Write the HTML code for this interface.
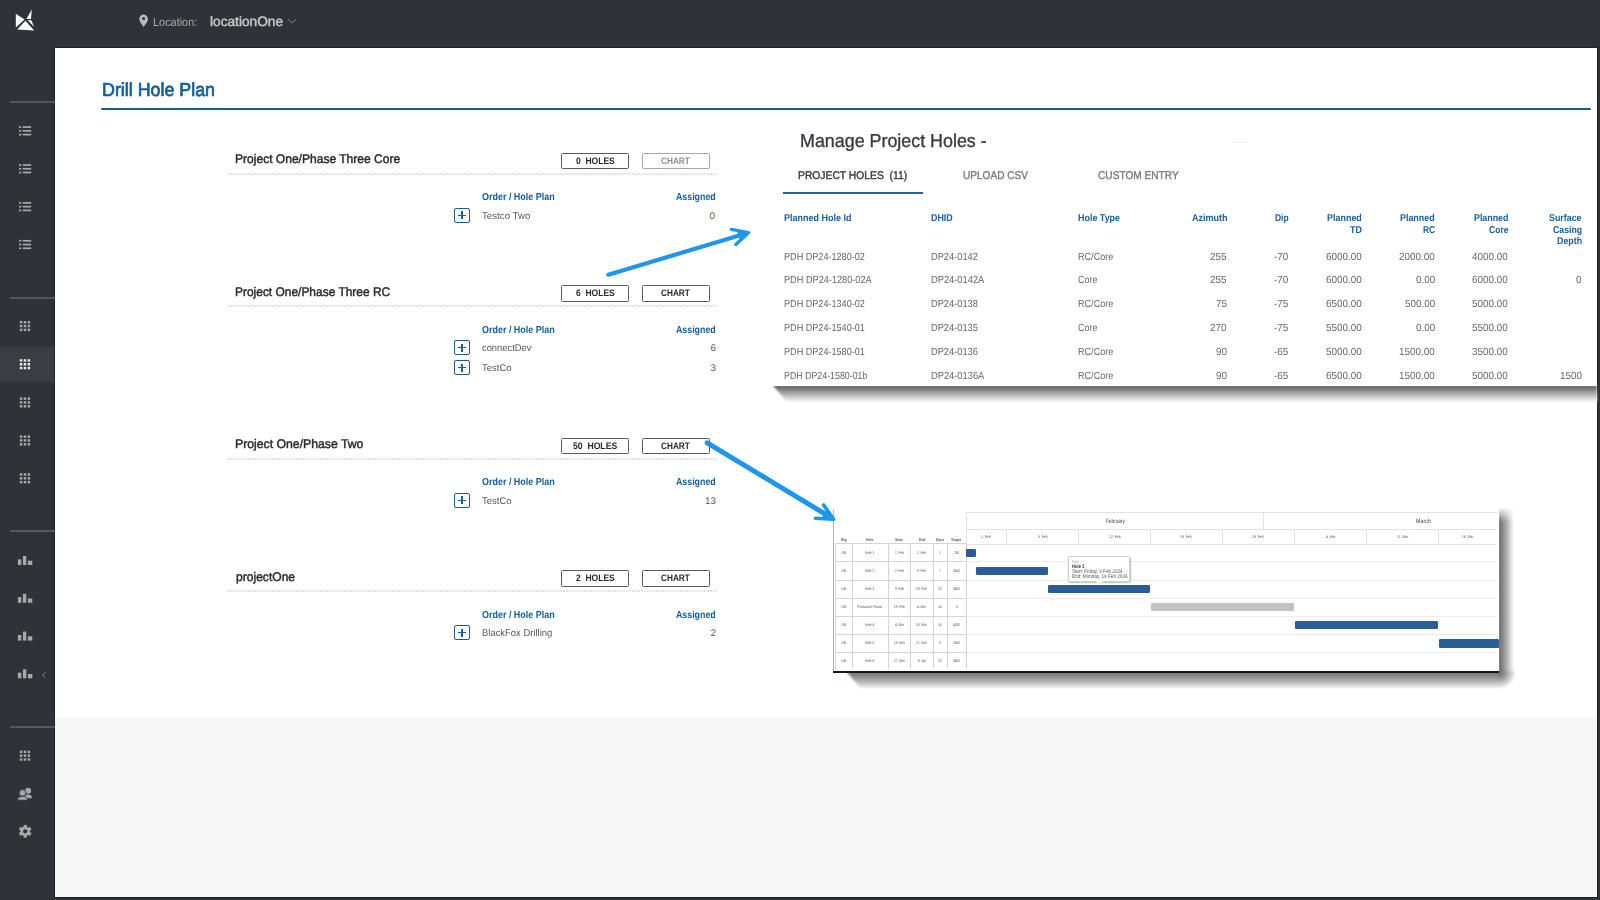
<!DOCTYPE html>
<html><head><meta charset="utf-8">
<style>
html,body{margin:0;padding:0;}
body{width:1600px;height:900px;overflow:hidden;position:relative;background:#2f3237;font-family:"Liberation Sans",sans-serif;}
.a{position:absolute;box-sizing:border-box;}
.t{position:absolute;white-space:pre;transform-origin:0 0;text-rendering:geometricPrecision;font-family:"Liberation Sans",sans-serif;}
svg{position:absolute;overflow:visible;}
</style></head><body>
<div class="a" style="left:54px;top:47px;width:1544px;height:851px;background:#1f2124"></div>
<div class="a" style="left:55px;top:48px;width:1542px;height:669px;background:#fff"></div>
<div class="a" style="left:55px;top:717px;width:1542px;height:180px;background:#f7f7f7"></div>
<div class="a" style="left:10px;top:101px;width:45px;height:2px;background:#55585c"></div>
<div class="a" style="left:10px;top:297px;width:45px;height:2px;background:#55585c"></div>
<div class="a" style="left:10px;top:530px;width:45px;height:2px;background:#55585c"></div>
<div class="a" style="left:10px;top:726px;width:45px;height:2px;background:#55585c"></div>
<div class="a" style="left:0;top:346.5px;width:54px;height:35.5px;background:#3a3d42"></div>
<svg class="a" style="left:0;top:0" width="60" height="900"><rect x="19" y="126.25" width="2.2" height="1.7" fill="#a7a8aa"/><rect x="22.7" y="126.25" width="8.5" height="1.7" fill="#a7a8aa"/><rect x="19" y="130.00" width="2.2" height="1.7" fill="#a7a8aa"/><rect x="22.7" y="130.00" width="8.5" height="1.7" fill="#a7a8aa"/><rect x="19" y="133.75" width="2.2" height="1.7" fill="#a7a8aa"/><rect x="22.7" y="133.75" width="8.5" height="1.7" fill="#a7a8aa"/><rect x="19" y="164.15" width="2.2" height="1.7" fill="#a7a8aa"/><rect x="22.7" y="164.15" width="8.5" height="1.7" fill="#a7a8aa"/><rect x="19" y="167.90" width="2.2" height="1.7" fill="#a7a8aa"/><rect x="22.7" y="167.90" width="8.5" height="1.7" fill="#a7a8aa"/><rect x="19" y="171.65" width="2.2" height="1.7" fill="#a7a8aa"/><rect x="22.7" y="171.65" width="8.5" height="1.7" fill="#a7a8aa"/><rect x="19" y="202.05" width="2.2" height="1.7" fill="#a7a8aa"/><rect x="22.7" y="202.05" width="8.5" height="1.7" fill="#a7a8aa"/><rect x="19" y="205.80" width="2.2" height="1.7" fill="#a7a8aa"/><rect x="22.7" y="205.80" width="8.5" height="1.7" fill="#a7a8aa"/><rect x="19" y="209.55" width="2.2" height="1.7" fill="#a7a8aa"/><rect x="22.7" y="209.55" width="8.5" height="1.7" fill="#a7a8aa"/><rect x="19" y="239.95" width="2.2" height="1.7" fill="#a7a8aa"/><rect x="22.7" y="239.95" width="8.5" height="1.7" fill="#a7a8aa"/><rect x="19" y="243.70" width="2.2" height="1.7" fill="#a7a8aa"/><rect x="22.7" y="243.70" width="8.5" height="1.7" fill="#a7a8aa"/><rect x="19" y="247.45" width="2.2" height="1.7" fill="#a7a8aa"/><rect x="22.7" y="247.45" width="8.5" height="1.7" fill="#a7a8aa"/><rect x="19.80" y="321.00" width="2.5" height="2.5" fill="#a7a8aa"/><rect x="19.80" y="324.80" width="2.5" height="2.5" fill="#a7a8aa"/><rect x="19.80" y="328.60" width="2.5" height="2.5" fill="#a7a8aa"/><rect x="23.70" y="321.00" width="2.5" height="2.5" fill="#a7a8aa"/><rect x="23.70" y="324.80" width="2.5" height="2.5" fill="#a7a8aa"/><rect x="23.70" y="328.60" width="2.5" height="2.5" fill="#a7a8aa"/><rect x="27.60" y="321.00" width="2.5" height="2.5" fill="#a7a8aa"/><rect x="27.60" y="324.80" width="2.5" height="2.5" fill="#a7a8aa"/><rect x="27.60" y="328.60" width="2.5" height="2.5" fill="#a7a8aa"/><rect x="19.80" y="397.40" width="2.5" height="2.5" fill="#a7a8aa"/><rect x="19.80" y="401.20" width="2.5" height="2.5" fill="#a7a8aa"/><rect x="19.80" y="405.00" width="2.5" height="2.5" fill="#a7a8aa"/><rect x="23.70" y="397.40" width="2.5" height="2.5" fill="#a7a8aa"/><rect x="23.70" y="401.20" width="2.5" height="2.5" fill="#a7a8aa"/><rect x="23.70" y="405.00" width="2.5" height="2.5" fill="#a7a8aa"/><rect x="27.60" y="397.40" width="2.5" height="2.5" fill="#a7a8aa"/><rect x="27.60" y="401.20" width="2.5" height="2.5" fill="#a7a8aa"/><rect x="27.60" y="405.00" width="2.5" height="2.5" fill="#a7a8aa"/><rect x="19.80" y="435.40" width="2.5" height="2.5" fill="#a7a8aa"/><rect x="19.80" y="439.20" width="2.5" height="2.5" fill="#a7a8aa"/><rect x="19.80" y="443.00" width="2.5" height="2.5" fill="#a7a8aa"/><rect x="23.70" y="435.40" width="2.5" height="2.5" fill="#a7a8aa"/><rect x="23.70" y="439.20" width="2.5" height="2.5" fill="#a7a8aa"/><rect x="23.70" y="443.00" width="2.5" height="2.5" fill="#a7a8aa"/><rect x="27.60" y="435.40" width="2.5" height="2.5" fill="#a7a8aa"/><rect x="27.60" y="439.20" width="2.5" height="2.5" fill="#a7a8aa"/><rect x="27.60" y="443.00" width="2.5" height="2.5" fill="#a7a8aa"/><rect x="19.80" y="473.30" width="2.5" height="2.5" fill="#a7a8aa"/><rect x="19.80" y="477.10" width="2.5" height="2.5" fill="#a7a8aa"/><rect x="19.80" y="480.90" width="2.5" height="2.5" fill="#a7a8aa"/><rect x="23.70" y="473.30" width="2.5" height="2.5" fill="#a7a8aa"/><rect x="23.70" y="477.10" width="2.5" height="2.5" fill="#a7a8aa"/><rect x="23.70" y="480.90" width="2.5" height="2.5" fill="#a7a8aa"/><rect x="27.60" y="473.30" width="2.5" height="2.5" fill="#a7a8aa"/><rect x="27.60" y="477.10" width="2.5" height="2.5" fill="#a7a8aa"/><rect x="27.60" y="480.90" width="2.5" height="2.5" fill="#a7a8aa"/><rect x="19.80" y="750.60" width="2.5" height="2.5" fill="#a7a8aa"/><rect x="19.80" y="754.40" width="2.5" height="2.5" fill="#a7a8aa"/><rect x="19.80" y="758.20" width="2.5" height="2.5" fill="#a7a8aa"/><rect x="23.70" y="750.60" width="2.5" height="2.5" fill="#a7a8aa"/><rect x="23.70" y="754.40" width="2.5" height="2.5" fill="#a7a8aa"/><rect x="23.70" y="758.20" width="2.5" height="2.5" fill="#a7a8aa"/><rect x="27.60" y="750.60" width="2.5" height="2.5" fill="#a7a8aa"/><rect x="27.60" y="754.40" width="2.5" height="2.5" fill="#a7a8aa"/><rect x="27.60" y="758.20" width="2.5" height="2.5" fill="#a7a8aa"/><rect x="19.80" y="359.20" width="2.5" height="2.5" fill="#ececec"/><rect x="19.80" y="363.00" width="2.5" height="2.5" fill="#ececec"/><rect x="19.80" y="366.80" width="2.5" height="2.5" fill="#ececec"/><rect x="23.70" y="359.20" width="2.5" height="2.5" fill="#ececec"/><rect x="23.70" y="363.00" width="2.5" height="2.5" fill="#ececec"/><rect x="23.70" y="366.80" width="2.5" height="2.5" fill="#ececec"/><rect x="27.60" y="359.20" width="2.5" height="2.5" fill="#ececec"/><rect x="27.60" y="363.00" width="2.5" height="2.5" fill="#ececec"/><rect x="27.60" y="366.80" width="2.5" height="2.5" fill="#ececec"/><rect x="17.9" y="559.40" width="3.4" height="5.6" fill="#a7a8aa"/><rect x="22.9" y="556.00" width="3.4" height="9" fill="#a7a8aa"/><rect x="27.9" y="560.70" width="4.4" height="4.3" fill="#a7a8aa"/><rect x="17.9" y="597.20" width="3.4" height="5.6" fill="#a7a8aa"/><rect x="22.9" y="593.80" width="3.4" height="9" fill="#a7a8aa"/><rect x="27.9" y="598.50" width="4.4" height="4.3" fill="#a7a8aa"/><rect x="17.9" y="635.00" width="3.4" height="5.6" fill="#a7a8aa"/><rect x="22.9" y="631.60" width="3.4" height="9" fill="#a7a8aa"/><rect x="27.9" y="636.30" width="4.4" height="4.3" fill="#a7a8aa"/><rect x="17.9" y="672.70" width="3.4" height="5.6" fill="#a7a8aa"/><rect x="22.9" y="669.30" width="3.4" height="9" fill="#a7a8aa"/><rect x="27.9" y="674.00" width="4.4" height="4.3" fill="#a7a8aa"/><path d="M45.5 672.3 L42.3 675.3 L45.5 678.3" stroke="#8a8b8d" stroke-width="0.9" fill="none"/><circle cx="28.1" cy="790.8" r="3" fill="#a7a8aa"/><path d="M24.2 798.3 Q24.2 794.6 28.1 794.6 Q32 794.6 32 798.3 Z" fill="#a7a8aa"/><circle cx="22.6" cy="792.9" r="3.3" fill="#a7a8aa" stroke="#2f3237" stroke-width="0.8"/><path d="M17.6 800.2 Q17.6 796.3 22.6 796.3 Q27.6 796.3 27.6 800.2 Z" fill="#a7a8aa" stroke="#2f3237" stroke-width="0.8"/><g transform="translate(25.2,831.3)"><rect x="-1.6" y="-6.4" width="3.2" height="3" fill="#a7a8aa" transform="rotate(0)"/><rect x="-1.6" y="-6.4" width="3.2" height="3" fill="#a7a8aa" transform="rotate(60)"/><rect x="-1.6" y="-6.4" width="3.2" height="3" fill="#a7a8aa" transform="rotate(120)"/><rect x="-1.6" y="-6.4" width="3.2" height="3" fill="#a7a8aa" transform="rotate(180)"/><rect x="-1.6" y="-6.4" width="3.2" height="3" fill="#a7a8aa" transform="rotate(240)"/><rect x="-1.6" y="-6.4" width="3.2" height="3" fill="#a7a8aa" transform="rotate(300)"/><circle r="4.8" fill="#a7a8aa"/><circle r="2.1" fill="#2f3237"/></g></svg>
<svg class="a" style="left:0;top:0" width="50" height="40"><polygon points="15.8,13.8 15.8,27.6 24.6,19.6" fill="#fff"/><polygon points="17.2,29.6 34.2,30.4 25.4,20.8" fill="#fff"/><polygon points="31.8,9.6 31,19 26.4,19" fill="#fff"/><polygon points="27.6,20.2 31.4,20.2 34,26.8" fill="#fff"/></svg>
<svg class="a" style="left:0;top:0" width="160" height="40"><path d="M143.6 27 C141.5 24 139.2 21.4 139.2 19 A4.4 4.4 0 0 1 148 19 C148 21.4 145.7 24 143.6 27 Z" fill="#b9babc"/><circle cx="143.6" cy="18.6" r="1.5" fill="#2f3237"/></svg>
<svg class="a" style="left:0;top:0" width="320" height="40"><path d="M288.2 19.2 L292.2 23 L296.2 19.2" stroke="#86878a" stroke-width="1" fill="none"/></svg>
<div class="a" style="left:101px;top:108.3px;width:1489.5px;height:2px;background:#0c609b;border-radius:1px"></div>
<div class="a" style="left:561px;top:152.5px;width:68px;height:16.5px;border:1px solid #5a5a5a;border-radius:1.5px"></div>
<div class="a" style="left:642px;top:152.5px;width:68px;height:16.5px;border:1px solid #a9a9a9;border-radius:1.5px"></div>
<div class="a" style="left:227px;top:172.8px;width:490px;height:2px;background:repeating-linear-gradient(90deg,#e3e3e3 0 2px,transparent 2px 3px)"></div>
<div class="a" style="left:454px;top:207.5px;width:16px;height:15px;border:1.5px solid #1d5f93;border-radius:2px"></div>
<div class="a" style="left:458px;top:214.5px;width:8px;height:1.1px;background:#1d5f93"></div>
<div class="a" style="left:461.45px;top:211px;width:1.1px;height:8px;background:#1d5f93"></div>
<div class="a" style="left:561px;top:285.0px;width:68px;height:16.5px;border:1px solid #5a5a5a;border-radius:1.5px"></div>
<div class="a" style="left:642px;top:285.0px;width:68px;height:16.5px;border:1px solid #5a5a5a;border-radius:1.5px"></div>
<div class="a" style="left:227px;top:305.3px;width:490px;height:2px;background:repeating-linear-gradient(90deg,#e3e3e3 0 2px,transparent 2px 3px)"></div>
<div class="a" style="left:454px;top:340.0px;width:16px;height:15px;border:1.5px solid #1d5f93;border-radius:2px"></div>
<div class="a" style="left:458px;top:347.0px;width:8px;height:1.1px;background:#1d5f93"></div>
<div class="a" style="left:461.45px;top:343.5px;width:1.1px;height:8px;background:#1d5f93"></div>
<div class="a" style="left:454px;top:360.0px;width:16px;height:15px;border:1.5px solid #1d5f93;border-radius:2px"></div>
<div class="a" style="left:458px;top:367.0px;width:8px;height:1.1px;background:#1d5f93"></div>
<div class="a" style="left:461.45px;top:363.5px;width:1.1px;height:8px;background:#1d5f93"></div>
<div class="a" style="left:561px;top:437.5px;width:68px;height:16.5px;border:1px solid #5a5a5a;border-radius:1.5px"></div>
<div class="a" style="left:642px;top:437.5px;width:68px;height:16.5px;border:1px solid #5a5a5a;border-radius:1.5px"></div>
<div class="a" style="left:227px;top:457.8px;width:490px;height:2px;background:repeating-linear-gradient(90deg,#e3e3e3 0 2px,transparent 2px 3px)"></div>
<div class="a" style="left:454px;top:492.5px;width:16px;height:15px;border:1.5px solid #1d5f93;border-radius:2px"></div>
<div class="a" style="left:458px;top:499.5px;width:8px;height:1.1px;background:#1d5f93"></div>
<div class="a" style="left:461.45px;top:496.0px;width:1.1px;height:8px;background:#1d5f93"></div>
<div class="a" style="left:561px;top:570.0px;width:68px;height:16.5px;border:1px solid #5a5a5a;border-radius:1.5px"></div>
<div class="a" style="left:642px;top:570.0px;width:68px;height:16.5px;border:1px solid #5a5a5a;border-radius:1.5px"></div>
<div class="a" style="left:227px;top:590.3px;width:490px;height:2px;background:repeating-linear-gradient(90deg,#e3e3e3 0 2px,transparent 2px 3px)"></div>
<div class="a" style="left:454px;top:625.0px;width:16px;height:15px;border:1.5px solid #1d5f93;border-radius:2px"></div>
<div class="a" style="left:458px;top:632.0px;width:8px;height:1.1px;background:#1d5f93"></div>
<div class="a" style="left:461.45px;top:628.5px;width:1.1px;height:8px;background:#1d5f93"></div>
<div class="a" style="left:0;top:0;width:1600px;height:900px;filter:blur(0.8px)"><div class="a" style="left:772px;top:384.5px;width:825px;height:17.5px;background:linear-gradient(rgb(96,96,96) 1px,rgb(128,128,128) 4.5px,rgb(170,170,170) 8.5px,rgb(210,210,210) 12.5px,rgb(255,255,255) 17.5px);clip-path:polygon(0 0,100% 0,100% 100%,15px 100%)"></div></div>
<div class="a" style="left:772px;top:118px;width:825px;height:267.5px;background:#fff"></div>
<div class="a" style="left:1232px;top:141.5px;width:16px;height:1.5px;background:#f0f0f0"></div>
<div class="a" style="left:783px;top:191.5px;width:140px;height:2px;background:#1d63a8"></div>
<div class="a" style="left:0;top:0;width:1600px;height:900px;filter:blur(0.8px)"><div class="a" style="left:846px;top:671px;width:653px;height:18px;background:linear-gradient(rgb(118,118,118) 1px,rgb(130,130,130) 4px,rgb(168,168,168) 9px,rgb(213,213,213) 14px,rgb(255,255,255) 18px);clip-path:polygon(0 0,100% 0,100% 100%,15px 100%)"></div><div class="a" style="left:1498px;top:509px;width:17px;height:163px;background:linear-gradient(90deg,rgb(108,108,108) 1px,rgb(130,130,130) 4px,rgb(168,168,168) 8px,rgb(213,213,213) 12px,rgb(255,255,255) 16px);-webkit-mask-image:linear-gradient(rgba(0,0,0,0.15),#000 13px)"></div><div class="a" style="left:1498px;top:671px;width:17px;height:18px;background:radial-gradient(circle at 1px 1px,rgb(110,110,110) 1px,rgb(130,130,130) 4px,rgb(168,168,168) 8.5px,rgb(213,213,213) 13px,rgb(255,255,255) 17px)"></div></div>
<div class="a" style="left:833px;top:509px;width:666px;height:163px;background:#fff"></div>
<div class="a" style="left:833px;top:509px;width:1px;height:162px;background:#b5b5b5"></div>
<div class="a" style="left:833px;top:670.5px;width:666px;height:2px;background:#111a1e"></div>
<div class="a" style="left:835px;top:544px;width:1px;height:125px;background:#d4d4d4"></div>
<div class="a" style="left:852px;top:544px;width:1px;height:125px;background:#d4d4d4"></div>
<div class="a" style="left:888px;top:544px;width:1px;height:125px;background:#d4d4d4"></div>
<div class="a" style="left:910px;top:544px;width:1px;height:125px;background:#d4d4d4"></div>
<div class="a" style="left:933px;top:544px;width:1px;height:125px;background:#d4d4d4"></div>
<div class="a" style="left:947px;top:544px;width:1px;height:125px;background:#d4d4d4"></div>
<div class="a" style="left:966px;top:544px;width:1px;height:125px;background:#d4d4d4"></div>
<div class="a" style="left:835px;top:543px;width:131px;height:1px;background:#d4d4d4"></div>
<div class="a" style="left:835px;top:561px;width:131px;height:1px;background:#d4d4d4"></div>
<div class="a" style="left:835px;top:580px;width:131px;height:1px;background:#d4d4d4"></div>
<div class="a" style="left:835px;top:598px;width:131px;height:1px;background:#d4d4d4"></div>
<div class="a" style="left:835px;top:616px;width:131px;height:1px;background:#d4d4d4"></div>
<div class="a" style="left:835px;top:634px;width:131px;height:1px;background:#d4d4d4"></div>
<div class="a" style="left:835px;top:652px;width:131px;height:1px;background:#d4d4d4"></div>
<div class="a" style="left:966px;top:512px;width:531px;height:1px;background:#e2e2e2"></div>
<div class="a" style="left:966px;top:512px;width:1px;height:32px;background:#e2e2e2"></div>
<div class="a" style="left:966px;top:529px;width:531px;height:1px;background:#e2e2e2"></div>
<div class="a" style="left:966px;top:543.5px;width:531px;height:1px;background:#e2e2e2"></div>
<div class="a" style="left:1263px;top:512px;width:1px;height:17px;background:#e2e2e2"></div>
<div class="a" style="left:1006.2px;top:529px;width:1px;height:15px;background:#e2e2e2"></div>
<div class="a" style="left:1078.4px;top:529px;width:1px;height:15px;background:#e2e2e2"></div>
<div class="a" style="left:1149.9px;top:529px;width:1px;height:15px;background:#e2e2e2"></div>
<div class="a" style="left:1222.0px;top:529px;width:1px;height:15px;background:#e2e2e2"></div>
<div class="a" style="left:1294.1px;top:529px;width:1px;height:15px;background:#e2e2e2"></div>
<div class="a" style="left:1366.1px;top:529px;width:1px;height:15px;background:#e2e2e2"></div>
<div class="a" style="left:1437.8px;top:529px;width:1px;height:15px;background:#e2e2e2"></div>
<div class="a" style="left:966px;top:561.4px;width:531px;height:1px;background:#ececec"></div>
<div class="a" style="left:966px;top:579.6px;width:531px;height:1px;background:#ececec"></div>
<div class="a" style="left:966px;top:597.7px;width:531px;height:1px;background:#ececec"></div>
<div class="a" style="left:966px;top:615.8px;width:531px;height:1px;background:#ececec"></div>
<div class="a" style="left:966px;top:633.9px;width:531px;height:1px;background:#ececec"></div>
<div class="a" style="left:966px;top:652.1px;width:531px;height:1px;background:#ececec"></div>
<div class="a" style="left:966.2px;top:548.8px;width:9.6px;height:8.2px;background:#2a5d96;border-radius:1.2px"></div>
<div class="a" style="left:976.3px;top:566.9px;width:71.5px;height:8.2px;background:#2a5d96;border-radius:1.2px"></div>
<div class="a" style="left:1048.3px;top:585.1px;width:102.0px;height:8.2px;background:#2a5d96;border-radius:1.2px"></div>
<div class="a" style="left:1151.4px;top:603.2px;width:143.0px;height:8.2px;background:#c2c2c2;border-radius:1.2px"></div>
<div class="a" style="left:1294.8px;top:621.3px;width:143.4px;height:8.2px;background:#2a5d96;border-radius:1.2px"></div>
<div class="a" style="left:1438.6px;top:639.4px;width:60.4px;height:8.2px;background:#2a5d96;border-radius:1.2px"></div>
<div class="a" style="left:1068.4px;top:556px;width:62px;height:26.2px;background:#fff;border:0.8px solid #cfcfcf;border-radius:2px;box-shadow:0.5px 1px 1.5px rgba(0,0,0,0.25)"></div>
<svg class="a" style="left:0;top:0" width="1600" height="900"><path d="M1096.5 582 L1099.3 584.8 L1102.1 582 Z" fill="#fff" stroke="#cfcfcf" stroke-width="0.6"/><rect x="1096" y="581" width="6.5" height="1.4" fill="#fff"/></svg>
<svg class="a" style="left:0;top:0" width="1600" height="900"><line x1="608.3" y1="274.7" x2="746" y2="233.5" stroke="#1f96ee" stroke-width="4.2" stroke-linecap="round"/><path d="M731.4 229.4 L748.6 232.6 L735.8 244.4" stroke="#1f96ee" stroke-width="3.4" stroke-linecap="round" stroke-linejoin="round" fill="none"/><polygon points="737,231 748.6,232.6 740,241" fill="#1f96ee"/><line x1="707.2" y1="442.8" x2="830" y2="517" stroke="#1f96ee" stroke-width="5" stroke-linecap="round"/><path d="M823.6 505 L833.6 519.2 L815.4 518.2" stroke="#1f96ee" stroke-width="3.6" stroke-linecap="round" stroke-linejoin="round" fill="none"/><polygon points="826,510 833.6,519.2 822,518" fill="#1f96ee"/></svg>
<span class="t" style="left:152.75px;top:16.90px;font-size:11.63px;line-height:11.63px;font-weight:400;color:#a9aaac;transform:scaleX(0.9383);">Location:</span>
<span class="t" style="left:210.30px;top:14.93px;font-size:13.66px;line-height:13.66px;font-weight:400;color:#c6c7c9;transform:scaleX(1.0029);-webkit-text-stroke:0.45px #c6c7c9;">locationOne</span>
<span class="t" style="left:101.56px;top:81.50px;font-size:18.90px;line-height:18.90px;font-weight:400;color:#0f5e9b;transform:scaleX(0.9442);-webkit-text-stroke:0.7px #0f5e9b;">Drill Hole Plan</span>
<span class="t" style="left:234.64px;top:153.02px;font-size:12.50px;line-height:12.50px;font-weight:400;color:#2b2b2b;transform:scaleX(0.9639);-webkit-text-stroke:0.45px #2b2b2b;">Project One/Phase Three Core</span>
<span class="t" style="left:575.55px;top:156.90px;font-size:9.45px;line-height:9.45px;font-weight:700;color:#2a2a2a;transform:scaleX(0.9015);">0  HOLES</span>
<span class="t" style="left:661.30px;top:156.90px;font-size:9.45px;line-height:9.45px;font-weight:700;color:#8d8d8d;transform:scaleX(0.8719);">CHART</span>
<span class="t" style="left:481.50px;top:193.09px;font-size:10.17px;line-height:10.17px;font-weight:700;color:#145d9d;transform:scaleX(0.8820);">Order / Hole Plan</span>
<span class="t" style="left:676.00px;top:193.09px;font-size:10.17px;line-height:10.17px;font-weight:700;color:#145d9d;transform:scaleX(0.8680);">Assigned</span>
<span class="t" style="left:481.50px;top:211.65px;font-size:9.74px;line-height:9.74px;font-weight:400;color:#585858;transform:scaleX(0.9978);">Testco Two</span>
<span class="t" style="left:709.40px;top:211.65px;font-size:9.74px;line-height:9.74px;font-weight:400;color:#585858;">0</span>
<span class="t" style="left:234.64px;top:285.52px;font-size:12.50px;line-height:12.50px;font-weight:400;color:#2b2b2b;transform:scaleX(0.9558);-webkit-text-stroke:0.45px #2b2b2b;">Project One/Phase Three RC</span>
<span class="t" style="left:575.55px;top:289.40px;font-size:9.45px;line-height:9.45px;font-weight:700;color:#2a2a2a;transform:scaleX(0.9015);">6  HOLES</span>
<span class="t" style="left:661.30px;top:289.40px;font-size:9.45px;line-height:9.45px;font-weight:700;color:#2a2a2a;transform:scaleX(0.8719);">CHART</span>
<span class="t" style="left:481.50px;top:325.59px;font-size:10.17px;line-height:10.17px;font-weight:700;color:#145d9d;transform:scaleX(0.8820);">Order / Hole Plan</span>
<span class="t" style="left:676.00px;top:325.59px;font-size:10.17px;line-height:10.17px;font-weight:700;color:#145d9d;transform:scaleX(0.8680);">Assigned</span>
<span class="t" style="left:481.50px;top:344.15px;font-size:9.74px;line-height:9.74px;font-weight:400;color:#585858;transform:scaleX(0.9599);">connectDev</span>
<span class="t" style="left:710.40px;top:344.15px;font-size:9.74px;line-height:9.74px;font-weight:400;color:#585858;">6</span>
<span class="t" style="left:481.50px;top:364.15px;font-size:9.74px;line-height:9.74px;font-weight:400;color:#585858;transform:scaleX(0.9752);">TestCo</span>
<span class="t" style="left:710.40px;top:364.15px;font-size:9.74px;line-height:9.74px;font-weight:400;color:#585858;">3</span>
<span class="t" style="left:234.62px;top:438.02px;font-size:12.50px;line-height:12.50px;font-weight:400;color:#2b2b2b;transform:scaleX(0.9796);-webkit-text-stroke:0.45px #2b2b2b;">Project One/Phase Two</span>
<span class="t" style="left:572.85px;top:441.90px;font-size:9.45px;line-height:9.45px;font-weight:700;color:#2a2a2a;transform:scaleX(0.9154);">50  HOLES</span>
<span class="t" style="left:661.30px;top:441.90px;font-size:9.45px;line-height:9.45px;font-weight:700;color:#2a2a2a;transform:scaleX(0.8719);">CHART</span>
<span class="t" style="left:481.50px;top:478.09px;font-size:10.17px;line-height:10.17px;font-weight:700;color:#145d9d;transform:scaleX(0.8820);">Order / Hole Plan</span>
<span class="t" style="left:676.00px;top:478.09px;font-size:10.17px;line-height:10.17px;font-weight:700;color:#145d9d;transform:scaleX(0.8680);">Assigned</span>
<span class="t" style="left:481.50px;top:496.65px;font-size:9.74px;line-height:9.74px;font-weight:400;color:#585858;transform:scaleX(0.9752);">TestCo</span>
<span class="t" style="left:704.99px;top:496.65px;font-size:9.74px;line-height:9.74px;font-weight:400;color:#585858;">13</span>
<span class="t" style="left:235.60px;top:570.52px;font-size:12.50px;line-height:12.50px;font-weight:400;color:#2b2b2b;transform:scaleX(0.9658);-webkit-text-stroke:0.45px #2b2b2b;">projectOne</span>
<span class="t" style="left:575.55px;top:574.40px;font-size:9.45px;line-height:9.45px;font-weight:700;color:#2a2a2a;transform:scaleX(0.9015);">2  HOLES</span>
<span class="t" style="left:661.30px;top:574.40px;font-size:9.45px;line-height:9.45px;font-weight:700;color:#2a2a2a;transform:scaleX(0.8719);">CHART</span>
<span class="t" style="left:481.50px;top:610.59px;font-size:10.17px;line-height:10.17px;font-weight:700;color:#145d9d;transform:scaleX(0.8820);">Order / Hole Plan</span>
<span class="t" style="left:676.00px;top:610.59px;font-size:10.17px;line-height:10.17px;font-weight:700;color:#145d9d;transform:scaleX(0.8680);">Assigned</span>
<span class="t" style="left:481.50px;top:629.15px;font-size:9.74px;line-height:9.74px;font-weight:400;color:#585858;transform:scaleX(0.9699);">BlackFox Drilling</span>
<span class="t" style="left:710.40px;top:629.15px;font-size:9.74px;line-height:9.74px;font-weight:400;color:#585858;">2</span>
<span class="t" style="left:799.55px;top:132.42px;font-size:18.75px;line-height:18.75px;font-weight:400;color:#393b3e;transform:scaleX(0.9529);-webkit-text-stroke:0.35px #393b3e;">Manage Project Holes -</span>
<span class="t" style="left:797.50px;top:170.52px;font-size:11.19px;line-height:11.19px;font-weight:400;color:#3a3a3a;transform:scaleX(0.9217);-webkit-text-stroke:0.4px #3a3a3a;">PROJECT HOLES  (11)</span>
<span class="t" style="left:962.50px;top:170.50px;font-size:11.34px;line-height:11.34px;font-weight:400;color:#7c7c7c;transform:scaleX(0.8888);-webkit-text-stroke:0.4px #7c7c7c;">UPLOAD CSV</span>
<span class="t" style="left:1098.20px;top:170.50px;font-size:11.34px;line-height:11.34px;font-weight:400;color:#7c7c7c;transform:scaleX(0.8946);-webkit-text-stroke:0.4px #7c7c7c;">CUSTOM ENTRY</span>
<span class="t" style="left:784.40px;top:214.43px;font-size:9.88px;line-height:9.88px;font-weight:700;color:#175fa0;transform:scaleX(0.9117);">Planned Hole Id</span>
<span class="t" style="left:931.00px;top:214.43px;font-size:9.88px;line-height:9.88px;font-weight:700;color:#175fa0;transform:scaleX(0.8998);">DHID</span>
<span class="t" style="left:1077.70px;top:214.43px;font-size:9.88px;line-height:9.88px;font-weight:700;color:#175fa0;transform:scaleX(0.9049);">Hole Type</span>
<span class="t" style="left:1191.70px;top:214.43px;font-size:9.88px;line-height:9.88px;font-weight:700;color:#175fa0;transform:scaleX(0.9123);">Azimuth</span>
<span class="t" style="left:1274.70px;top:214.43px;font-size:9.88px;line-height:9.88px;font-weight:700;color:#175fa0;transform:scaleX(0.8567);">Dip</span>
<span class="t" style="left:1327.00px;top:214.43px;font-size:9.88px;line-height:9.88px;font-weight:700;color:#175fa0;transform:scaleX(0.9068);">Planned</span>
<span class="t" style="left:1350.00px;top:225.93px;font-size:9.88px;line-height:9.88px;font-weight:700;color:#175fa0;transform:scaleX(0.9055);">TD</span>
<span class="t" style="left:1400.40px;top:214.43px;font-size:9.88px;line-height:9.88px;font-weight:700;color:#175fa0;transform:scaleX(0.9016);">Planned</span>
<span class="t" style="left:1423.00px;top:225.93px;font-size:9.88px;line-height:9.88px;font-weight:700;color:#175fa0;transform:scaleX(0.8492);">RC</span>
<span class="t" style="left:1474.00px;top:214.43px;font-size:9.88px;line-height:9.88px;font-weight:700;color:#175fa0;transform:scaleX(0.8963);">Planned</span>
<span class="t" style="left:1488.50px;top:225.93px;font-size:9.88px;line-height:9.88px;font-weight:700;color:#175fa0;transform:scaleX(0.8650);">Core</span>
<span class="t" style="left:1549.00px;top:214.43px;font-size:9.88px;line-height:9.88px;font-weight:700;color:#175fa0;transform:scaleX(0.8984);">Surface</span>
<span class="t" style="left:1552.80px;top:225.93px;font-size:9.88px;line-height:9.88px;font-weight:700;color:#175fa0;transform:scaleX(0.8878);">Casing</span>
<span class="t" style="left:1557.00px;top:237.43px;font-size:9.88px;line-height:9.88px;font-weight:700;color:#175fa0;transform:scaleX(0.8946);">Depth</span>
<span class="t" style="left:783.60px;top:252.66px;font-size:10.32px;line-height:10.32px;font-weight:400;color:#676767;transform:scaleX(0.8819);">PDH DP24-1280-02</span>
<span class="t" style="left:931.00px;top:252.66px;font-size:10.32px;line-height:10.32px;font-weight:400;color:#676767;transform:scaleX(0.8975);">DP24-0142</span>
<span class="t" style="left:1077.70px;top:252.66px;font-size:10.32px;line-height:10.32px;font-weight:400;color:#676767;transform:scaleX(0.8804);">RC/Core</span>
<span class="t" style="left:1210.44px;top:252.66px;font-size:10.32px;line-height:10.32px;font-weight:400;color:#676767;transform:scaleX(0.9600);">255</span>
<span class="t" style="left:1273.75px;top:252.66px;font-size:10.32px;line-height:10.32px;font-weight:400;color:#676767;transform:scaleX(0.9600);">-70</span>
<span class="t" style="left:1325.81px;top:252.66px;font-size:10.32px;line-height:10.32px;font-weight:400;color:#676767;transform:scaleX(0.9600);">6000.00</span>
<span class="t" style="left:1399.01px;top:252.66px;font-size:10.32px;line-height:10.32px;font-weight:400;color:#676767;transform:scaleX(0.9600);">2000.00</span>
<span class="t" style="left:1472.41px;top:252.66px;font-size:10.32px;line-height:10.32px;font-weight:400;color:#676767;transform:scaleX(0.9600);">4000.00</span>
<span class="t" style="left:783.60px;top:276.46px;font-size:10.32px;line-height:10.32px;font-weight:400;color:#676767;transform:scaleX(0.8887);">PDH DP24-1280-02A</span>
<span class="t" style="left:931.00px;top:276.46px;font-size:10.32px;line-height:10.32px;font-weight:400;color:#676767;transform:scaleX(0.9020);">DP24-0142A</span>
<span class="t" style="left:1077.70px;top:276.46px;font-size:10.32px;line-height:10.32px;font-weight:400;color:#676767;transform:scaleX(0.8676);">Core</span>
<span class="t" style="left:1210.44px;top:276.46px;font-size:10.32px;line-height:10.32px;font-weight:400;color:#676767;transform:scaleX(0.9600);">255</span>
<span class="t" style="left:1273.75px;top:276.46px;font-size:10.32px;line-height:10.32px;font-weight:400;color:#676767;transform:scaleX(0.9600);">-70</span>
<span class="t" style="left:1325.81px;top:276.46px;font-size:10.32px;line-height:10.32px;font-weight:400;color:#676767;transform:scaleX(0.9600);">6000.00</span>
<span class="t" style="left:1415.50px;top:276.46px;font-size:10.32px;line-height:10.32px;font-weight:400;color:#676767;transform:scaleX(0.9600);">0.00</span>
<span class="t" style="left:1472.41px;top:276.46px;font-size:10.32px;line-height:10.32px;font-weight:400;color:#676767;transform:scaleX(0.9600);">6000.00</span>
<span class="t" style="left:1576.24px;top:276.46px;font-size:10.32px;line-height:10.32px;font-weight:400;color:#676767;transform:scaleX(0.9600);">0</span>
<span class="t" style="left:783.60px;top:300.26px;font-size:10.32px;line-height:10.32px;font-weight:400;color:#676767;transform:scaleX(0.8819);">PDH DP24-1340-02</span>
<span class="t" style="left:931.00px;top:300.26px;font-size:10.32px;line-height:10.32px;font-weight:400;color:#676767;transform:scaleX(0.8975);">DP24-0138</span>
<span class="t" style="left:1077.70px;top:300.26px;font-size:10.32px;line-height:10.32px;font-weight:400;color:#676767;transform:scaleX(0.8804);">RC/Core</span>
<span class="t" style="left:1215.94px;top:300.26px;font-size:10.32px;line-height:10.32px;font-weight:400;color:#676767;transform:scaleX(0.9600);">75</span>
<span class="t" style="left:1273.75px;top:300.26px;font-size:10.32px;line-height:10.32px;font-weight:400;color:#676767;transform:scaleX(0.9600);">-75</span>
<span class="t" style="left:1325.81px;top:300.26px;font-size:10.32px;line-height:10.32px;font-weight:400;color:#676767;transform:scaleX(0.9600);">6500.00</span>
<span class="t" style="left:1404.50px;top:300.26px;font-size:10.32px;line-height:10.32px;font-weight:400;color:#676767;transform:scaleX(0.9600);">500.00</span>
<span class="t" style="left:1472.41px;top:300.26px;font-size:10.32px;line-height:10.32px;font-weight:400;color:#676767;transform:scaleX(0.9600);">5000.00</span>
<span class="t" style="left:783.60px;top:324.06px;font-size:10.32px;line-height:10.32px;font-weight:400;color:#676767;transform:scaleX(0.8819);">PDH DP24-1540-01</span>
<span class="t" style="left:931.00px;top:324.06px;font-size:10.32px;line-height:10.32px;font-weight:400;color:#676767;transform:scaleX(0.8975);">DP24-0135</span>
<span class="t" style="left:1077.70px;top:324.06px;font-size:10.32px;line-height:10.32px;font-weight:400;color:#676767;transform:scaleX(0.8676);">Core</span>
<span class="t" style="left:1210.44px;top:324.06px;font-size:10.32px;line-height:10.32px;font-weight:400;color:#676767;transform:scaleX(0.9600);">270</span>
<span class="t" style="left:1273.75px;top:324.06px;font-size:10.32px;line-height:10.32px;font-weight:400;color:#676767;transform:scaleX(0.9600);">-75</span>
<span class="t" style="left:1325.81px;top:324.06px;font-size:10.32px;line-height:10.32px;font-weight:400;color:#676767;transform:scaleX(0.9600);">5500.00</span>
<span class="t" style="left:1415.50px;top:324.06px;font-size:10.32px;line-height:10.32px;font-weight:400;color:#676767;transform:scaleX(0.9600);">0.00</span>
<span class="t" style="left:1472.41px;top:324.06px;font-size:10.32px;line-height:10.32px;font-weight:400;color:#676767;transform:scaleX(0.9600);">5500.00</span>
<span class="t" style="left:783.60px;top:347.86px;font-size:10.32px;line-height:10.32px;font-weight:400;color:#676767;transform:scaleX(0.8819);">PDH DP24-1580-01</span>
<span class="t" style="left:931.00px;top:347.86px;font-size:10.32px;line-height:10.32px;font-weight:400;color:#676767;transform:scaleX(0.8975);">DP24-0136</span>
<span class="t" style="left:1077.70px;top:347.86px;font-size:10.32px;line-height:10.32px;font-weight:400;color:#676767;transform:scaleX(0.8804);">RC/Core</span>
<span class="t" style="left:1215.94px;top:347.86px;font-size:10.32px;line-height:10.32px;font-weight:400;color:#676767;transform:scaleX(0.9600);">90</span>
<span class="t" style="left:1273.75px;top:347.86px;font-size:10.32px;line-height:10.32px;font-weight:400;color:#676767;transform:scaleX(0.9600);">-65</span>
<span class="t" style="left:1325.81px;top:347.86px;font-size:10.32px;line-height:10.32px;font-weight:400;color:#676767;transform:scaleX(0.9600);">5000.00</span>
<span class="t" style="left:1399.01px;top:347.86px;font-size:10.32px;line-height:10.32px;font-weight:400;color:#676767;transform:scaleX(0.9600);">1500.00</span>
<span class="t" style="left:1472.41px;top:347.86px;font-size:10.32px;line-height:10.32px;font-weight:400;color:#676767;transform:scaleX(0.9600);">3500.00</span>
<span class="t" style="left:783.60px;top:371.66px;font-size:10.32px;line-height:10.32px;font-weight:400;color:#676767;transform:scaleX(0.8557);">PDH DP24-1580-01b</span>
<span class="t" style="left:931.00px;top:371.66px;font-size:10.32px;line-height:10.32px;font-weight:400;color:#676767;transform:scaleX(0.9020);">DP24-0136A</span>
<span class="t" style="left:1077.70px;top:371.66px;font-size:10.32px;line-height:10.32px;font-weight:400;color:#676767;transform:scaleX(0.8804);">RC/Core</span>
<span class="t" style="left:1215.94px;top:371.66px;font-size:10.32px;line-height:10.32px;font-weight:400;color:#676767;transform:scaleX(0.9600);">90</span>
<span class="t" style="left:1273.75px;top:371.66px;font-size:10.32px;line-height:10.32px;font-weight:400;color:#676767;transform:scaleX(0.9600);">-65</span>
<span class="t" style="left:1325.81px;top:371.66px;font-size:10.32px;line-height:10.32px;font-weight:400;color:#676767;transform:scaleX(0.9600);">6500.00</span>
<span class="t" style="left:1399.01px;top:371.66px;font-size:10.32px;line-height:10.32px;font-weight:400;color:#676767;transform:scaleX(0.9600);">1500.00</span>
<span class="t" style="left:1472.41px;top:371.66px;font-size:10.32px;line-height:10.32px;font-weight:400;color:#676767;transform:scaleX(0.9600);">5000.00</span>
<span class="t" style="left:1559.75px;top:371.66px;font-size:10.32px;line-height:10.32px;font-weight:400;color:#676767;transform:scaleX(0.9600);">1500</span>
<span class="t" style="left:1071.50px;top:559.61px;font-size:4.36px;line-height:4.36px;font-weight:400;color:#999;transform:scaleX(0.7337);">Hole</span>
<span class="t" style="left:1071.50px;top:564.57px;font-size:5.23px;line-height:5.23px;font-weight:700;color:#333;transform:scaleX(0.7932);">Hole 3</span>
<span class="t" style="left:1071.50px;top:569.62px;font-size:5.52px;line-height:5.52px;font-weight:400;color:#555;transform:scaleX(0.8343);">Start: Friday, 9 Feb 2024</span>
<span class="t" style="left:1071.50px;top:575.12px;font-size:5.52px;line-height:5.52px;font-weight:400;color:#555;transform:scaleX(0.8401);">End: Monday, 19 Feb 2024</span>
<span class="t" style="left:1105.75px;top:519.13px;font-size:6.10px;line-height:6.10px;font-weight:400;color:#444;transform:scaleX(0.7696);">February</span>
<span class="t" style="left:1415.55px;top:519.13px;font-size:6.10px;line-height:6.10px;font-weight:400;color:#444;transform:scaleX(0.8766);">March</span>
<span class="t" style="left:981.20px;top:534.91px;font-size:4.00px;line-height:4.00px;font-weight:400;color:#555;transform:scaleX(0.8500);">1. Feb</span>
<span class="t" style="left:1037.65px;top:534.91px;font-size:4.00px;line-height:4.00px;font-weight:400;color:#555;transform:scaleX(0.8500);">5. Feb</span>
<span class="t" style="left:1108.56px;top:534.91px;font-size:4.00px;line-height:4.00px;font-weight:400;color:#555;transform:scaleX(0.8500);">12. Feb</span>
<span class="t" style="left:1180.36px;top:534.91px;font-size:4.00px;line-height:4.00px;font-weight:400;color:#555;transform:scaleX(0.8500);">19. Feb</span>
<span class="t" style="left:1252.46px;top:534.91px;font-size:4.00px;line-height:4.00px;font-weight:400;color:#555;transform:scaleX(0.8500);">26. Feb</span>
<span class="t" style="left:1325.50px;top:534.91px;font-size:4.00px;line-height:4.00px;font-weight:400;color:#555;transform:scaleX(0.8500);">4. Mar</span>
<span class="t" style="left:1396.53px;top:534.91px;font-size:4.00px;line-height:4.00px;font-weight:400;color:#555;transform:scaleX(0.8500);">11. Mar</span>
<span class="t" style="left:1462.45px;top:534.91px;font-size:4.00px;line-height:4.00px;font-weight:400;color:#555;transform:scaleX(0.8500);">18. Mar</span>
<span class="t" style="left:840.82px;top:537.61px;font-size:4.00px;line-height:4.00px;font-weight:700;color:#555;transform:scaleX(0.8500);">Rig</span>
<span class="t" style="left:866.19px;top:537.61px;font-size:4.00px;line-height:4.00px;font-weight:700;color:#555;transform:scaleX(0.8500);">Hole</span>
<span class="t" style="left:895.44px;top:537.61px;font-size:4.00px;line-height:4.00px;font-weight:700;color:#555;transform:scaleX(0.8500);">Start</span>
<span class="t" style="left:918.65px;top:537.61px;font-size:4.00px;line-height:4.00px;font-weight:700;color:#555;transform:scaleX(0.8500);">End</span>
<span class="t" style="left:935.91px;top:537.61px;font-size:4.00px;line-height:4.00px;font-weight:700;color:#555;transform:scaleX(0.8500);">Days</span>
<span class="t" style="left:951.45px;top:537.61px;font-size:4.00px;line-height:4.00px;font-weight:700;color:#555;transform:scaleX(0.8500);">Target</span>
<span class="t" style="left:840.82px;top:550.71px;font-size:4.00px;line-height:4.00px;font-weight:400;color:#555;transform:scaleX(0.8000);">106</span>
<span class="t" style="left:865.26px;top:550.71px;font-size:4.00px;line-height:4.00px;font-weight:400;color:#555;transform:scaleX(0.8000);">Hole 1</span>
<span class="t" style="left:894.75px;top:550.71px;font-size:4.00px;line-height:4.00px;font-weight:400;color:#555;transform:scaleX(0.8000);">1. Feb</span>
<span class="t" style="left:917.25px;top:550.71px;font-size:4.00px;line-height:4.00px;font-weight:400;color:#555;transform:scaleX(0.8000);">2. Feb</span>
<span class="t" style="left:939.10px;top:550.71px;font-size:4.00px;line-height:4.00px;font-weight:400;color:#555;transform:scaleX(0.8000);">1</span>
<span class="t" style="left:953.82px;top:550.71px;font-size:4.00px;line-height:4.00px;font-weight:400;color:#555;transform:scaleX(0.8000);">250</span>
<span class="t" style="left:840.82px;top:568.84px;font-size:4.00px;line-height:4.00px;font-weight:400;color:#555;transform:scaleX(0.8000);">106</span>
<span class="t" style="left:865.26px;top:568.84px;font-size:4.00px;line-height:4.00px;font-weight:400;color:#555;transform:scaleX(0.8000);">Hole 2</span>
<span class="t" style="left:894.75px;top:568.84px;font-size:4.00px;line-height:4.00px;font-weight:400;color:#555;transform:scaleX(0.8000);">2. Feb</span>
<span class="t" style="left:917.25px;top:568.84px;font-size:4.00px;line-height:4.00px;font-weight:400;color:#555;transform:scaleX(0.8000);">9. Feb</span>
<span class="t" style="left:939.10px;top:568.84px;font-size:4.00px;line-height:4.00px;font-weight:400;color:#555;transform:scaleX(0.8000);">7</span>
<span class="t" style="left:952.93px;top:568.84px;font-size:4.00px;line-height:4.00px;font-weight:400;color:#555;transform:scaleX(0.8000);">2400</span>
<span class="t" style="left:840.82px;top:586.97px;font-size:4.00px;line-height:4.00px;font-weight:400;color:#555;transform:scaleX(0.8000);">106</span>
<span class="t" style="left:865.26px;top:586.97px;font-size:4.00px;line-height:4.00px;font-weight:400;color:#555;transform:scaleX(0.8000);">Hole 3</span>
<span class="t" style="left:894.75px;top:586.97px;font-size:4.00px;line-height:4.00px;font-weight:400;color:#555;transform:scaleX(0.8000);">9. Feb</span>
<span class="t" style="left:916.36px;top:586.97px;font-size:4.00px;line-height:4.00px;font-weight:400;color:#555;transform:scaleX(0.8000);">19. Feb</span>
<span class="t" style="left:938.21px;top:586.97px;font-size:4.00px;line-height:4.00px;font-weight:400;color:#555;transform:scaleX(0.8000);">10</span>
<span class="t" style="left:952.93px;top:586.97px;font-size:4.00px;line-height:4.00px;font-weight:400;color:#555;transform:scaleX(0.8000);">3400</span>
<span class="t" style="left:840.82px;top:605.10px;font-size:4.00px;line-height:4.00px;font-weight:400;color:#555;transform:scaleX(0.8000);">106</span>
<span class="t" style="left:857.26px;top:605.10px;font-size:4.00px;line-height:4.00px;font-weight:400;color:#555;transform:scaleX(0.8000);">Production Pause</span>
<span class="t" style="left:893.86px;top:605.10px;font-size:4.00px;line-height:4.00px;font-weight:400;color:#555;transform:scaleX(0.8000);">19. Feb</span>
<span class="t" style="left:917.30px;top:605.10px;font-size:4.00px;line-height:4.00px;font-weight:400;color:#555;transform:scaleX(0.8000);">4. Mar</span>
<span class="t" style="left:938.21px;top:605.10px;font-size:4.00px;line-height:4.00px;font-weight:400;color:#555;transform:scaleX(0.8000);">14</span>
<span class="t" style="left:955.60px;top:605.10px;font-size:4.00px;line-height:4.00px;font-weight:400;color:#555;transform:scaleX(0.8000);">0</span>
<span class="t" style="left:840.82px;top:623.23px;font-size:4.00px;line-height:4.00px;font-weight:400;color:#555;transform:scaleX(0.8000);">106</span>
<span class="t" style="left:865.26px;top:623.23px;font-size:4.00px;line-height:4.00px;font-weight:400;color:#555;transform:scaleX(0.8000);">Hole 4</span>
<span class="t" style="left:894.80px;top:623.23px;font-size:4.00px;line-height:4.00px;font-weight:400;color:#555;transform:scaleX(0.8000);">4. Mar</span>
<span class="t" style="left:916.41px;top:623.23px;font-size:4.00px;line-height:4.00px;font-weight:400;color:#555;transform:scaleX(0.8000);">18. Mar</span>
<span class="t" style="left:938.21px;top:623.23px;font-size:4.00px;line-height:4.00px;font-weight:400;color:#555;transform:scaleX(0.8000);">14</span>
<span class="t" style="left:952.93px;top:623.23px;font-size:4.00px;line-height:4.00px;font-weight:400;color:#555;transform:scaleX(0.8000);">4000</span>
<span class="t" style="left:840.82px;top:641.36px;font-size:4.00px;line-height:4.00px;font-weight:400;color:#555;transform:scaleX(0.8000);">106</span>
<span class="t" style="left:865.26px;top:641.36px;font-size:4.00px;line-height:4.00px;font-weight:400;color:#555;transform:scaleX(0.8000);">Hole 5</span>
<span class="t" style="left:893.91px;top:641.36px;font-size:4.00px;line-height:4.00px;font-weight:400;color:#555;transform:scaleX(0.8000);">18. Mar</span>
<span class="t" style="left:916.41px;top:641.36px;font-size:4.00px;line-height:4.00px;font-weight:400;color:#555;transform:scaleX(0.8000);">27. Mar</span>
<span class="t" style="left:939.10px;top:641.36px;font-size:4.00px;line-height:4.00px;font-weight:400;color:#555;transform:scaleX(0.8000);">9</span>
<span class="t" style="left:952.93px;top:641.36px;font-size:4.00px;line-height:4.00px;font-weight:400;color:#555;transform:scaleX(0.8000);">2500</span>
<span class="t" style="left:840.82px;top:659.49px;font-size:4.00px;line-height:4.00px;font-weight:400;color:#555;transform:scaleX(0.8000);">106</span>
<span class="t" style="left:865.26px;top:659.49px;font-size:4.00px;line-height:4.00px;font-weight:400;color:#555;transform:scaleX(0.8000);">Hole 6</span>
<span class="t" style="left:893.91px;top:659.49px;font-size:4.00px;line-height:4.00px;font-weight:400;color:#555;transform:scaleX(0.8000);">27. Mar</span>
<span class="t" style="left:917.56px;top:659.49px;font-size:4.00px;line-height:4.00px;font-weight:400;color:#555;transform:scaleX(0.8000);">6. Apr</span>
<span class="t" style="left:938.21px;top:659.49px;font-size:4.00px;line-height:4.00px;font-weight:400;color:#555;transform:scaleX(0.8000);">10</span>
<span class="t" style="left:952.93px;top:659.49px;font-size:4.00px;line-height:4.00px;font-weight:400;color:#555;transform:scaleX(0.8000);">3400</span>
</body></html>
